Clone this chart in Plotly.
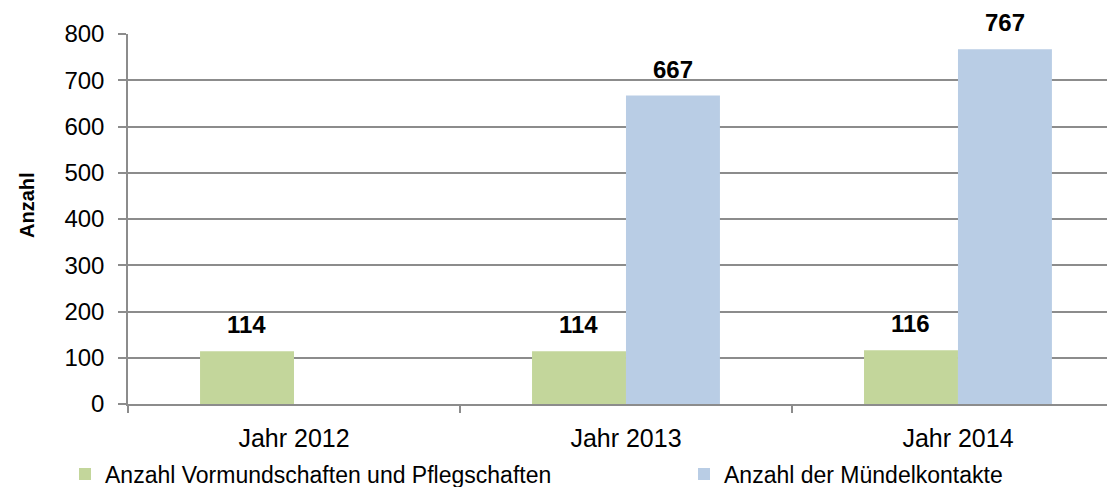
import plotly.graph_objects as go

categories = ["Jahr 2012", "Jahr 2013", "Jahr 2014"]
series1_name = "Anzahl Vormundschaften und Pflegschaften"
series1 = [114, 114, 116]
series2_name = "Anzahl der Mündelkontakte"
series2 = [None, 667, 767]
y_ticks = [0, 100, 200, 300, 400, 500, 600, 700, 800]

GREEN = "#C3D69B"
BLUE = "#B9CDE5"
GRID = "#8C8C8C"
FONT = "Liberation Sans, Arial, sans-serif"

# the page body has an 8px margin; the figure is sized to fill the rest of the window
W, H = 1107, 479
ML, MT, MB = 120, 26, 83
PW, PH = W - ML, H - MT - MB

fig = go.Figure()
fig.add_trace(go.Bar(x=categories, y=series1, name=series1_name, legend="legend",
                     marker=dict(color=GREEN, line=dict(width=0))))
fig.add_trace(go.Bar(x=categories, y=series2, name=series2_name, legend="legend2",
                     marker=dict(color=BLUE, line=dict(width=0))))

# data labels
for vals, shift in ((series1, -47), (series2, 47)):
    for c, v in zip(categories, vals):
        if v is None:
            continue
        fig.add_annotation(x=c, y=v, xref="x", yref="y", text=f"<b>{v}</b>",
                           showarrow=False, xshift=shift, yanchor="bottom", yshift=11,
                           font=dict(family=FONT, size=24, color="#000000"))

# y-axis title
fig.add_annotation(x=(19 - ML) / PW, y=1 - (197 - MT) / PH, xref="paper", yref="paper",
                   text="<b>Anzahl</b>", textangle=-90, showarrow=False,
                   xanchor="center", yanchor="middle",
                   font=dict(family=FONT, size=20, color="#000000"))

legend_common = dict(orientation="h", xref="container", yref="container",
                     xanchor="left", yanchor="middle",
                     font=dict(family=FONT, size=23, color="#000000"),
                     itemclick=False, bgcolor="rgba(0,0,0,0)")

fig.update_layout(
    width=W, height=H,
    margin=dict(l=ML, r=0, t=MT, b=MB, autoexpand=False),
    paper_bgcolor="white", plot_bgcolor="white",
    barmode="group", bargap=0.434, bargroupgap=0,
    font=dict(family=FONT, size=22, color="#000000"),
    showlegend=True,
    legend=dict(x=57 / W, y=1 - 466 / H, **legend_common),
    legend2=dict(x=676 / W, y=1 - 466 / H, **legend_common),
)
fig.update_xaxes(range=[-0.5, 2.473], showgrid=False, showline=True, linecolor=GRID,
                 linewidth=1.5, ticks="outside", tickson="boundaries", ticklen=7,
                 tickcolor=GRID, tickwidth=1.5, ticklabelstandoff=11,
                 tickfont=dict(family=FONT, size=25, color="#000000"))
fig.update_yaxes(range=[0, 800], tickvals=y_ticks, showgrid=True, gridcolor=GRID,
                 gridwidth=1.5, showline=True, linecolor=GRID, linewidth=1.5,
                 ticks="outside", ticklen=8, tickcolor=GRID, tickwidth=1.5,
                 ticklabelstandoff=9, zeroline=False,
                 tickfont=dict(family=FONT, size=24, color="#000000"))

fig.write_html("out.html")
